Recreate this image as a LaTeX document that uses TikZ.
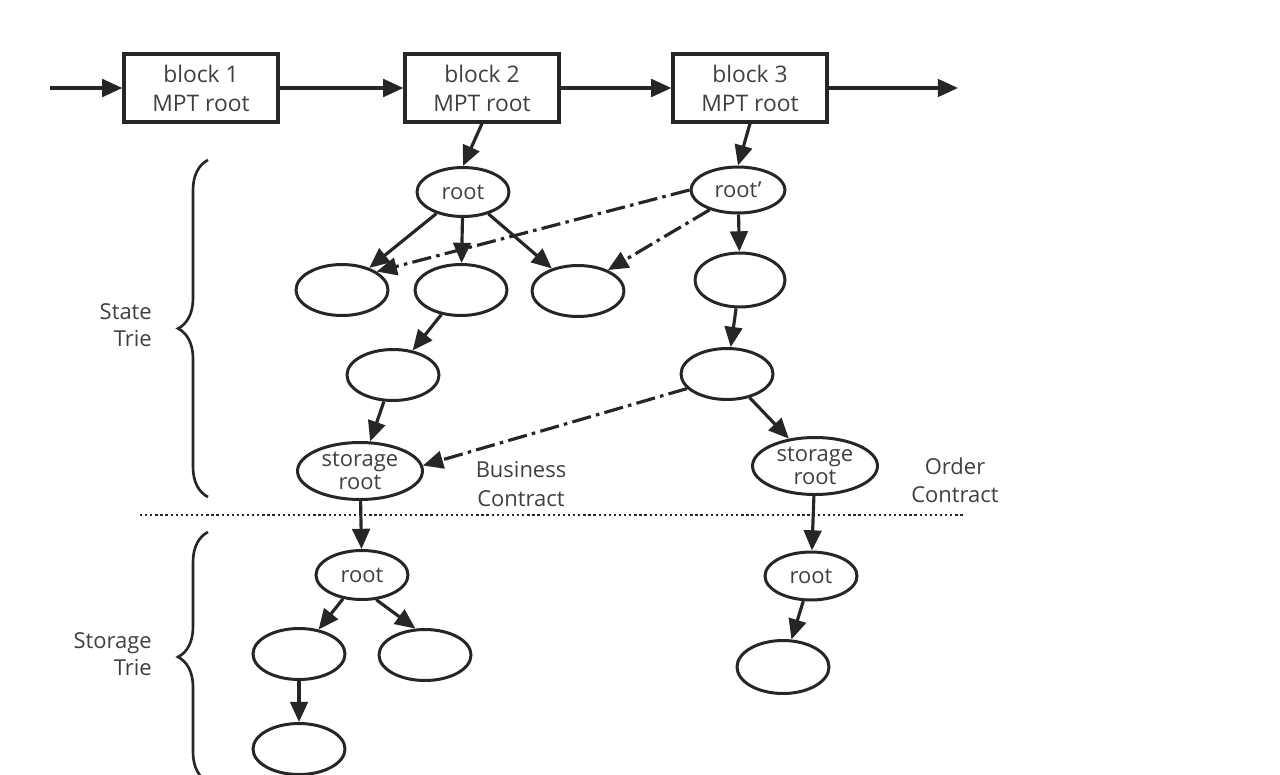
\documentclass[tikz,border=0pt]{standalone}
\usepackage{fontspec}
\setmainfont{Open Sans}
\usetikzlibrary{shapes.geometric,arrows.meta,decorations.pathreplacing}
\definecolor{ln}{HTML}{262626}
\definecolor{tx}{HTML}{404040}
\begin{document}
\begin{tikzpicture}[x=0.02cm,y=-0.02cm,
  font=\fontsize{12.5}{16}\selectfont, text=tx,
  blockbox/.style={draw=ln, line width=1.8pt, minimum width=3.08cm, minimum height=1.36cm, align=center, inner sep=0, font=\fontsize{13}{16.5}\selectfont},
  ell/.style={ellipse, draw=ln, line width=1.7pt, minimum width=1.84cm, minimum height=1.02cm, inner sep=0, align=center},
  bigell/.style={ell, minimum width=2.5cm, minimum height=1.14cm, font=\fontsize{12.5}{13}\selectfont},
  arr/.style={draw=ln, line width=1.8pt, -{Triangle[length=11.5pt,width=10pt]}},
  dd/.style={arr, dash pattern=on 11pt off 3pt on 2pt off 3pt},
  bracestyle/.style={draw=ln, line width=1.5pt, decorate, decoration={brace, amplitude=0.6cm}},
  lab/.style={align=right, anchor=east, font=\fontsize{12.5}{15}\selectfont},
  clab/.style={align=center, font=\fontsize{12.5}{16}\selectfont}]
\clip (0,0) rectangle (1280,774);
\fill[white] (0,0) rectangle (1280,774);

% blocks
\node[blockbox] (b1) at (201,88) {block 1\\MPT root};
\node[blockbox] (b2) at (482,88) {block 2\\MPT root};
\node[blockbox] (b3) at (750,88) {block 3\\MPT root};
\coordinate (cin) at (50,88);
\coordinate (cout) at (958,88);
\draw[arr] (cin) -- (b1);
\draw[arr] (b1) -- (b2);
\draw[arr] (b2) -- (b3);
\draw[arr] (b3) -- (cout);

% state trie
\node[ell, minimum height=0.98cm] (r) at (463,192) {root};
\node[ell, minimum width=1.88cm, minimum height=0.92cm] (rp) at (738,190) {root'};
\node[ell] (a1) at (342,290) {};
\node[ell] (a2) at (461,290) {};
\node[ell] (a3) at (578,291) {};
\node[ell, minimum width=1.8cm, minimum height=1.08cm] (c1) at (740,280) {};
\node[ell] (a4) at (393,375) {};
\node[ell] (c2) at (727,374) {};
\node[bigell] (sl) at (360,471) {storage\\root};
\node[bigell] (sr) at (815,466) {storage\\root};
\node[clab] (bc) at (521,484) {Business\\Contract};
\node[clab] (oc) at (955,480) {Order\\Contract};

\draw[arr] (b2.south) -- (r.north);
\draw[arr] (b3.south) -- (rp.north);
\draw[arr] (r) -- (a1);
\draw[arr] (r) -- (a2);
\draw[arr] (r) -- (a3);
\draw[dd] (rp.west) -- (a1.28);
\draw[dd] (rp.215) -- (a3.35);
\draw[arr] (rp) -- (c1);
\draw[arr] (a2) -- (a4);
\draw[arr] (c1) -- (c2);
\draw[arr] (a4) -- (sl);
\draw[arr] (c2) -- (sr);
\draw[dd] (c2.200) -- (sl.5);

% separator
\coordinate (d1) at (140,515);
\coordinate (d2) at (965,515);
\draw[ln, line width=1.3pt, dash pattern=on 1.3pt off 1.6pt] (d1) -- (d2);

% storage tries
\node[ell, minimum height=0.98cm] (s1) at (362,575) {root};
\node[ell, minimum height=0.96cm] (s2) at (811,576) {root};
\node[ell] (e1) at (299,654) {};
\node[ell] (e2) at (425,655) {};
\node[ell] (e3) at (299,749) {};
\node[ell, minimum height=1.06cm] (e4) at (783,667) {};
\draw[arr] (sl) -- (s1);
\draw[arr] (sr) -- (s2);
\draw[arr] (s1) -- (e1);
\draw[arr] (s1.300) -- (e2.110);
\draw[arr] (e1) -- (e3);
\draw[arr] (s2) -- (e4);

% braces
\coordinate (br1b) at (208,497);
\coordinate (br1t) at (208,160);
\coordinate (br2b) at (208,782);
\coordinate (br2t) at (208,532);
\draw[bracestyle] (br1b) -- (br1t);
\draw[bracestyle] (br2b) -- (br2t);
\node[lab] (st) at (158,325) {State\\Trie};
\node[lab] (sg) at (158,654) {Storage\\Trie};
\end{tikzpicture}
\end{document}
